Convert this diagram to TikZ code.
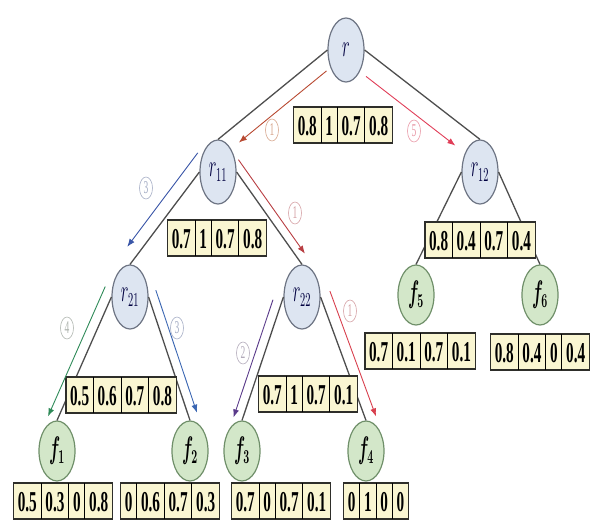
\documentclass[tikz,border=0pt]{standalone}
\usepackage{fontspec}
\setmainfont{Liberation Serif}
\usepackage{graphicx}
\usetikzlibrary{arrows.meta,shapes.geometric}
\definecolor{nodeblue}{HTML}{DDE5F1}
\definecolor{nodeline}{HTML}{6E7584}
\definecolor{leafgreen}{HTML}{D3E7C9}
\definecolor{leafline}{HTML}{6F8F69}
\definecolor{cellfill}{HTML}{FAF6D2}
\definecolor{cellline}{HTML}{2E2E2A}
\definecolor{linkgray}{HTML}{4E4E4E}
\definecolor{arrbrown}{HTML}{B84A32}
\definecolor{arrpink}{HTML}{E03E58}
\definecolor{arrblue}{HTML}{3A56A8}
\definecolor{arrred}{HTML}{B83E42}
\definecolor{arrgreen}{HTML}{2E8A58}
\definecolor{arrsky}{HTML}{3A66B2}
\definecolor{arrpurple}{HTML}{5A3A8A}
\definecolor{arrrose}{HTML}{D8404E}
\definecolor{labbrown}{HTML}{D6A58C}
\definecolor{labpink}{HTML}{E898A6}
\definecolor{labblue}{HTML}{A4ACC4}
\definecolor{labred}{HTML}{D4A0A4}
\definecolor{labgray}{HTML}{AEB4AE}
\definecolor{labmauve}{HTML}{B2AABA}
\newcommand\tall[1]{\scalebox{0.95}[1.8]{#1}}
\newcommand\cells[4]{\setlength\tabcolsep{4.3pt}\setlength\arrayrulewidth{1pt}%
  \begin{tabular}{c|c|c|c}\rule[-8pt]{0pt}{36pt}\tall{#1}&\tall{#2}&\tall{#3}&\tall{#4}\end{tabular}}
\tikzset{
  inner/.style={ellipse,draw=nodeline,fill=nodeblue,line width=1.2pt,minimum width=36pt,minimum height=64pt,inner sep=0pt,text=black!75!blue,font=\fontsize{16}{19}\selectfont},
  leaf/.style={ellipse,draw=leafline,fill=leafgreen,line width=1.2pt,minimum width=36pt,minimum height=60pt,inner sep=0pt,font=\fontsize{16}{19}\selectfont\boldmath},
  tab/.style={draw=cellline,fill=cellfill,line width=1.4pt,inner sep=0pt,font=\fontsize{16}{19}\selectfont\bfseries},
  link/.style={draw=linkgray,line width=1.3pt},
  arw/.style={->,line width=0.9pt},
  num/.style={ellipse,draw,line width=0.6pt,minimum width=13pt,minimum height=22pt,inner sep=0pt,font=\fontsize{10}{12}\selectfont}
}
\begin{document}
\begin{tikzpicture}[x=1pt,y=-1pt,>={Latex[length=8pt,width=6pt]}]
\useasboundingbox (0,0) rectangle (594,522);
% tree nodes
\node[inner] (r) at (346,50) {\tall{$r$}};
\node[inner] (r11) at (218,172) {\tall{$r_{11}$}};
\node[inner] (r12) at (480,172) {\tall{$r_{12}$}};
\node[inner] (r21) at (130,297) {\tall{$r_{21}$}};
\node[inner] (r22) at (302,297) {\tall{$r_{22}$}};
\node[leaf] (f5) at (416,295) {\tall{$f_5$}};
\node[leaf] (f6) at (540,295) {\tall{$f_6$}};
\node[leaf] (f1) at (57,451) {\tall{$f_1$}};
\node[leaf] (f2) at (190,451) {\tall{$f_2$}};
\node[leaf] (f3) at (242,451) {\tall{$f_3$}};
\node[leaf] (f4) at (366,451) {\tall{$f_4$}};
% tree edges
\draw[link] (r.west)--(r11.north); \draw[link] (r.east)--(r12.north);
\draw[link] (r11.west)--(r21.north); \draw[link] (r11.east)--(r22.north);
\draw[link] (r12.west)--(f5.north); \draw[link] (r12.east)--(f6.north);
\draw[link] (r21.west)--(f1.north); \draw[link] (r21.east)--(f2.north);
\draw[link] (r22.west)--(f3.north); \draw[link] (r22.east)--(f4.north);
% value tables
\node[tab] (t0) at (343,125) {\cells{0.8}{1}{0.7}{0.8}};
\node[tab] (t11) at (217,238) {\cells{0.7}{1}{0.7}{0.8}};
\node[tab] (t12) at (480,240) {\cells{0.8}{0.4}{0.7}{0.4}};
\node[tab] (t21) at (121,395) {\cells{0.5}{0.6}{0.7}{0.8}};
\node[tab] (t22) at (308,394) {\cells{0.7}{1}{0.7}{0.1}};
\node[tab] (tf5) at (420,351) {\cells{0.7}{0.1}{0.7}{0.1}};
\node[tab] (tf6) at (540,352) {\cells{0.8}{0.4}{0}{0.4}};
\node[tab] (tf1) at (63,501) {\cells{0.5}{0.3}{0}{0.8}};
\node[tab] (tf2) at (170,501) {\cells{0}{0.6}{0.7}{0.3}};
\node[tab] (tf3) at (281,501) {\cells{0.7}{0}{0.7}{0.1}};
\node[tab] (tf4) at (376,501) {\cells{0}{1}{0}{0}};
% search arrows
\draw[arw,arrbrown,shorten <=14pt,shorten >=14pt,transform canvas={shift={(10,12)}}] (r.west)--(r11.north);
\draw[arw,arrpink,shorten <=17pt,shorten >=16pt,transform canvas={shift={(-12,16)}}] (r.east)--(r12.north);
\draw[arw,arrblue,shorten <=-14pt,shorten >=12pt,transform canvas={shift={(-10,-8)}}] (r11.west)--(r21.north);
\draw[arw,arrred,shorten <=-9pt,shorten >=7pt,transform canvas={shift={(7,-5)}}] (r11.east)--(r22.north);
\draw[arw,arrgreen,shorten <=-7pt,transform canvas={shift={(-9,-4)}}] (r21.west)--(f1.north);
\draw[arw,arrsky,shorten <=-4pt,shorten >=5pt,transform canvas={shift={(8.5,-3)}}] (r21.east)--(f2.north);
\draw[arw,arrpurple,shorten <=6pt,transform canvas={shift={(-8.5,-3)}}] (r22.west)--(f3.north);
\draw[arw,arrrose,shorten <=-2pt,transform canvas={shift={(10,-4)}}] (r22.east)--(f4.north);
% order labels
\node[num,draw=labbrown,text=labbrown] (o1) at (272,130) {\tall{1}};
\node[num,draw=labpink,text=labpink] (o2) at (414,131) {\tall{5}};
\node[num,draw=labblue,text=labblue] (o3) at (146,188) {\tall{3}};
\node[num,draw=labred,text=labred] (o4) at (295,213) {\tall{1}};
\node[num,draw=labgray,text=labgray] (o5) at (67,328) {\tall{4}};
\node[num,draw=labblue,text=labblue] (o6) at (177,328) {\tall{3}};
\node[num,draw=labmauve,text=labmauve] (o7) at (243,353) {\tall{2}};
\node[num,draw=labred,text=labred] (o8) at (350,311) {\tall{1}};
\end{tikzpicture}
\end{document}
